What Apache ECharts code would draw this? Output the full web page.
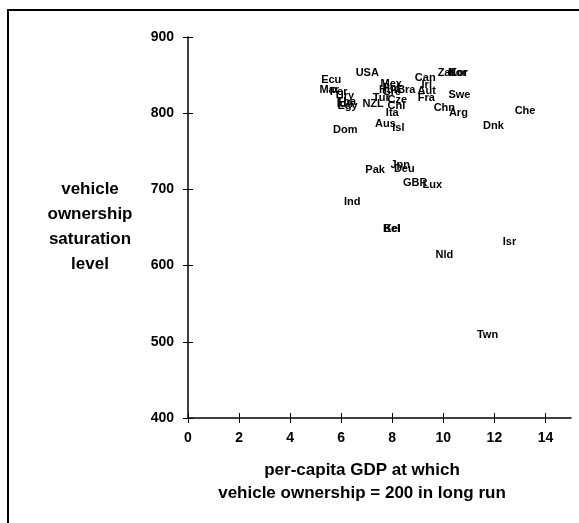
<!DOCTYPE html>
<html>
<head>
<meta charset="utf-8">
<script src="https://cdn.jsdelivr.net/npm/echarts@6/dist/echarts.min.js"></script>
<style>
html,body{margin:0;padding:0;background:#fff;}
#chart{width:579px;height:523px;}
</style>
</head>
<body>
<div id="chart"></div>
<script>
var countries = ["USA","Ecu","Mex","Can","Zaf","Nor","Kor","Mar","Per","Ury","Tha","Egy","Idn","NZL","Hun","Pol","Gre","Bra","Irl","Aut","Fra","Swe","Tur","Cze","Chl","Ita","Aus","Isl","Dom","Chn","Arg","Che","Dnk","Jpn","Pak","Deu","GBR","Lux","Ind","Bel","Kel","Nld","Isr","Twn"];
var gdpValues = [7.02,5.61,7.96,9.29,10.1,10.55,10.6,5.53,5.9,6.15,6.2,6.25,6.15,7.25,7.9,7.95,7.98,8.55,9.35,9.35,9.33,10.63,7.57,8.2,8.16,8.0,7.73,8.24,6.16,10.04,10.59,13.2,11.96,8.31,7.33,8.47,8.9,9.57,6.43,7.97,8.0,10.04,12.59,11.73];
var saturationValues = [853,844,838,846,853,853,853,830,828,823,815,810,812,812,830,833,828,830,837,829,820,824,820,818,810,800,786,780,778,807,800,803,783,732,726,727,708,706,684,648,648,614,631,509];
var xTicks = [0,2,4,6,8,10,12,14];
var yTicks = [400,500,600,700,800,900];

var chart = echarts.init(document.getElementById('chart'));
var data = countries.map(function(c,i){ return {name:c, value:[gdpValues[i], saturationValues[i]]}; });
var ff = 'Liberation Sans, Arial, sans-serif';
chart.setOption({
  animation:false,
  backgroundColor:'#fff',
  grid:{left:188, top:37, right:8, bottom:105, containLabel:false},
  graphic:[
    {type:'rect', shape:{x:8,y:10,width:620,height:560}, style:{fill:null, stroke:'#000', lineWidth:2}, z:-1},
    {type:'text', style:{text:'vehicle\nownership\nsaturation\nlevel', x:90, y:227, font:'bold 17px Liberation Sans, Arial, sans-serif', fill:'#000', align:'center', verticalAlign:'middle', lineHeight:25}},
    {type:'text', style:{text:'per-capita GDP at which\nvehicle ownership = 200 in long run', x:362, y:482, font:'bold 17px Liberation Sans, Arial, sans-serif', fill:'#000', align:'center', verticalAlign:'middle', lineHeight:23}}
  ],
  xAxis:[{
    type:'value', min:0, max:15, interval:2,
    axisLine:{lineStyle:{color:'#000', width:1.5}},
    axisTick:{show:true, length:5, lineStyle:{color:'#000'}, customValues:xTicks},
    axisLabel:{customValues:xTicks, margin:13, fontFamily:ff, fontWeight:'bold', fontSize:14, color:'#000'},
    splitLine:{show:false}
  },{
    type:'value', min:0, max:15, position:'bottom',
    axisLine:{show:false},
    axisTick:{show:true, inside:true, length:5, lineStyle:{color:'#000'}, customValues:xTicks},
    axisLabel:{show:false},
    splitLine:{show:false}
  }],
  yAxis:[{
    type:'value', min:400, max:900, interval:100,
    axisLine:{show:true, lineStyle:{color:'#000', width:1.5}},
    axisTick:{show:true, length:5, lineStyle:{color:'#000'}},
    axisLabel:{margin:14, fontFamily:ff, fontWeight:'bold', fontSize:14, color:'#000'},
    splitLine:{show:false}
  },{
    type:'value', min:400, max:900, interval:100, position:'left',
    axisLine:{show:false},
    axisTick:{show:true, inside:true, length:5, lineStyle:{color:'#000'}},
    axisLabel:{show:false},
    splitLine:{show:false}
  }],
  series:[{
    type:'scatter', xAxisIndex:0, yAxisIndex:0,
    symbolSize:0,
    data:data,
    label:{show:true, position:'inside', formatter:'{b}', fontFamily:ff, fontWeight:'bold', fontSize:11, color:'#000', opacity:1, textBorderWidth:0},
    labelLayout:{hideOverlap:false},
    silent:true
  }]
});
</script>
</body>
</html>
